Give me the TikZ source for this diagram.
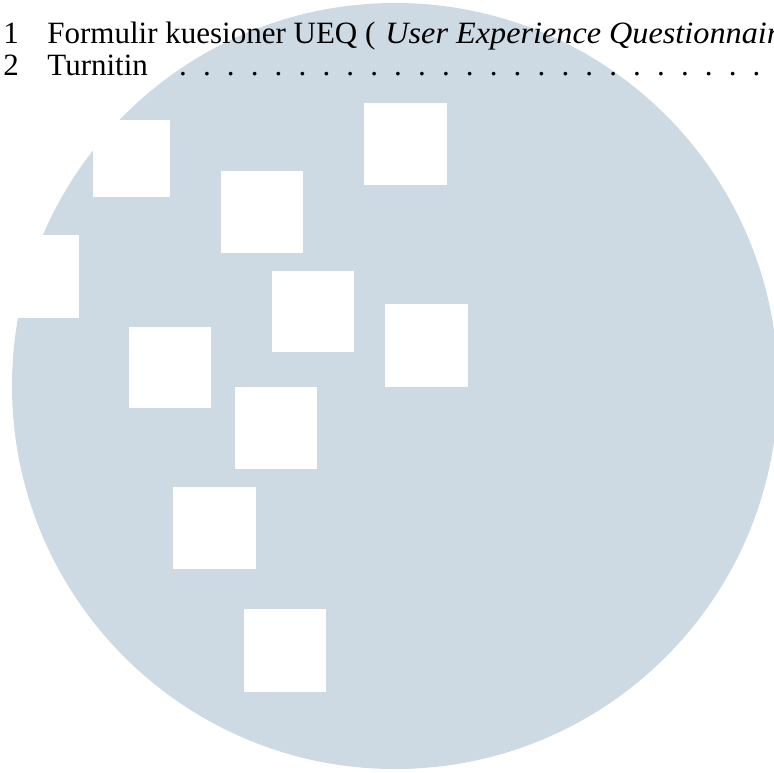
\documentclass[tikz,border=0pt]{standalone}
\usepackage{fontspec}
\setmainfont{Liberation Serif}
\newfontface\wideit{Liberation Serif Italic}[FakeStretch=1.04]
\usetikzlibrary{positioning}
\definecolor{seal}{HTML}{CDD9E3}

\begin{document}
\begin{tikzpicture}[
    x=0.5pt, y=-0.5pt,
    every node/.style={font=\fontsize{15.5}{16}\selectfont, inner sep=0pt},
    entry/.style={anchor=base west},
    slant/.style={entry, font=\fontsize{15.5}{16}\wideit},
    hole/.style={fill=white}
  ]
  \useasboundingbox (0,0) rectangle (774,772);
  \clip (0,0) rectangle (774,772);

  \fill[seal] (395,386) circle[radius=383];

  \fill[hole] (93,120) rectangle (170,197);
  \fill[hole] (221,171) rectangle (303,253);
  \fill[hole] (364,103) rectangle (447,185);
  \fill[hole] (-3,235) rectangle (79,318);
  \fill[hole] (272,271) rectangle (354,352);
  \fill[hole] (385,304) rectangle (468,387);
  \fill[hole] (129,327) rectangle (211,408);
  \fill[hole] (235,387) rectangle (317,469);
  \fill[hole] (173,487) rectangle (256,569);
  \fill[hole] (244,609) rectangle (326,692);

  \node[entry] (n1) at (3,43) {1};
  \node[entry] (t1) at (47,43) {Formulir kuesioner UEQ (};
  \node[slant] (t1i) at (385,43) {User Experience Questionnair};
  \node[entry] (n2) at (3,75) {2};
  \node[entry] (t2) at (47,75) {Turnitin};
  \foreach \i in {0,...,24}
    \node[anchor=base] (d\i) at (183+23.9*\i,75) {.};
\end{tikzpicture}
\end{document}
